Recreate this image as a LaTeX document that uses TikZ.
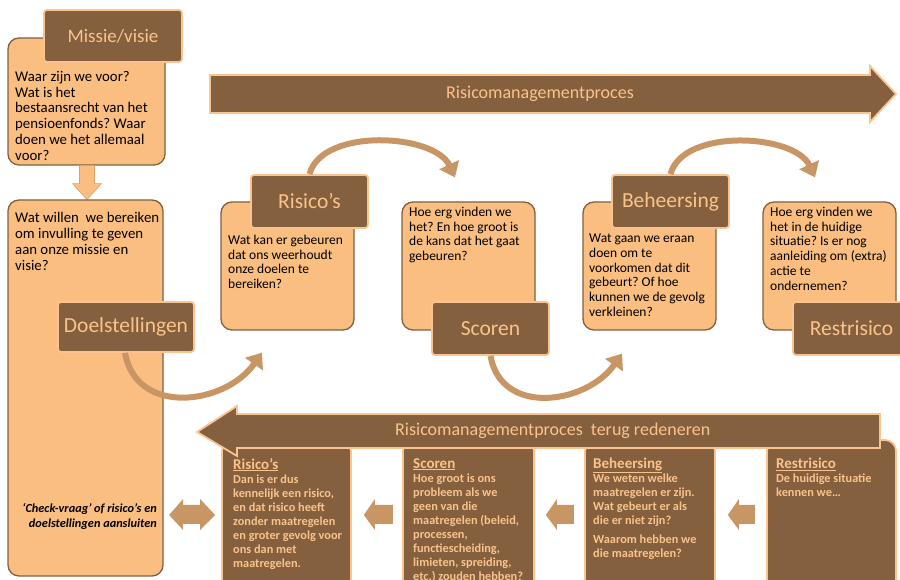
\documentclass[tikz,border=0pt]{standalone}
\usepackage{fontspec}
\setmainfont{Carlito}
\frenchspacing
\usetikzlibrary{positioning,arrows.meta}
\definecolor{lightbox}{RGB}{250,190,128}
\definecolor{boxline}{RGB}{128,96,64}
\definecolor{darkbox}{RGB}{132,96,63}
\definecolor{tabline}{RGB}{250,196,146}
\definecolor{tabtext}{RGB}{250,195,140}
\definecolor{arctan}{RGB}{200,150,100}
\newcommand{\btitlefont}{\bfseries\fontsize{15}{14}\selectfont}

\begin{document}
\begin{tikzpicture}[x=1pt, y=1pt,
  lbox/.style = {draw=boxline, line width=1.3pt, fill=lightbox, rounded corners=11pt, inner sep=0pt},
  tab/.style = {draw=tabline, line width=1.8pt, fill=darkbox, rounded corners=3pt, text=tabtext, font=\fontsize{21.5}{24}\selectfont, minimum width=117pt, minimum height=53pt, inner sep=0pt},
  dbox/.style = {draw=tabline, line width=1.8pt, fill=darkbox, rounded corners=11pt, inner sep=0pt},
  txt/.style = {anchor=north west, align=left, inner sep=0pt, font=\fontsize{13.5}{14.7}\selectfont},
  btxt/.style = {anchor=north west, align=left, inner sep=0pt, text=tabtext, font=\bfseries\fontsize{12.3}{14}\selectfont},
  arc/.style = {draw=arctan, line width=6pt, -{Triangle[width=21pt,length=14pt]}},
  bigarrow/.style = {draw=tabline, line width=1.8pt, fill=darkbox},
  block/.style = {fill=arctan}]
\clip (0,0) rectangle (900,580);

% Top process arrow
\draw[bigarrow] (210,505) -- (870,505) -- (870,514) -- (896,486) -- (870,458) -- (870,467) -- (210,467) -- cycle;
\node[text=tabtext, font=\fontsize{18}{20}\selectfont] (procT) at (540,486) {Risicomanagementproces};

% Mission and goals
\node[lbox, minimum width=157pt, minimum height=127pt] (missB) at (86.5,478.5) {};
\node[txt, font=\fontsize{14.8}{15.8}\selectfont] (missQ) at (15,509) {Waar zijn we voor?\\Wat is het\\bestaansrecht van het\\pensioenfonds? Waar\\doen we het allemaal\\voor?};
\node[tab, minimum width=138pt, minimum height=52pt, font=\fontsize{19}{22}\selectfont] (missT) at (113,544) {Missie/visie};

\fill[lightbox, draw=arctan!70!lightbox, line width=0.6pt] ([xshift=-7pt]missB.south) -- ++(0,-18) -- ++(-7,0) -- ++(14.5,-16) -- ++(14.5,16) -- ++(-7,0) -- ++(0,18) -- cycle;

\node[lbox, minimum width=155pt, minimum height=376pt] (doelB) at (85.5,192) {};
\node[txt, font=\fontsize{14.8}{16.1}\selectfont] (doelQ) at (15,368) {Wat willen\ \ we bereiken\\om invulling te geven\\aan onze missie en\\visie?};
\node[tab, minimum width=136pt, minimum height=50pt] (doelT) at (126,253) {Doelstellingen};
\node[anchor=north east, align=right, inner sep=0pt, font=\bfseries\itshape\fontsize{12.3}{15}\selectfont] (check) at (157,77) {‘Check-vraag’ of risico’s en\\doelstellingen aansluiten};

% Process steps
\node[lbox, minimum width=133pt, minimum height=128pt] (risB) at (287.5,314) {};
\node[txt] (risQ) at (228,345) {Wat kan er gebeuren\\dat ons weerhoudt\\onze doelen te\\bereiken?};
\node[tab] (risT) at (309.5,378.5) {Risico’s};

\node[lbox, minimum width=133pt, minimum height=128pt] (scorB) at (468.5,314) {};
\node[txt] (scorQ) at (409,373) {Hoe erg vinden we\\het? En hoe groot is\\de kans dat het gaat\\gebeuren?};
\node[tab] (scorT) at (490.5,251.5) {Scoren};

\node[lbox, minimum width=133pt, minimum height=128pt] (behB) at (649.5,314) {};
\node[txt] (behQ) at (589,346) {Wat gaan we eraan\\doen om te\\voorkomen dat dit\\gebeurt? Of hoe\\kunnen we de gevolg\\verkleinen?};
\node[tab] (behT) at (670.5,378.5) {Beheersing};

\node[lbox, minimum width=133pt, minimum height=128pt] (restB) at (829.5,314) {};
\node[txt] (restQ) at (770,373) {Hoe erg vinden we\\het in de huidige\\situatie? Is er nog\\aanleiding om (extra)\\actie te\\ondernemen?};
\node[tab] (restT) at (851.5,251.5) {Restrisico};

% Curved arrows
\draw[arc] ([xshift=-1pt]doelT.south) to[out=-80,in=-125,looseness=1.2] ([xshift=-25.5pt,yshift=-22pt]risB.south);
\draw[arc] (risT.north) to[out=75,in=115,looseness=0.85] ([xshift=-13.5pt,yshift=24pt]scorB.north);
\draw[arc] (scorT.south) to[out=-80,in=-125,looseness=1.2] ([xshift=-27.5pt,yshift=-23pt]behB.south);
\draw[arc] (behT.north) to[out=75,in=115,looseness=0.85] ([xshift=-14.5pt,yshift=24pt]restB.north);

% Reasoning back
\node[dbox, minimum width=129pt, minimum height=170pt] (risD) at (286.5,55) {};
\node[btxt] (risDQ) at (233,122) {{\btitlefont\underline{Risico’s}}\\Dan is er dus\\kennelijk een risico,\\en dat risico heeft\\zonder maatregelen\\en groter gevolg voor\\ons dan met\\maatregelen.};

\node[dbox, minimum width=131pt, minimum height=170pt] (scorD) at (468.5,55) {};
\node[btxt] (scorDQ) at (413,122) {{\btitlefont\underline{Scoren}}\\Hoe groot is ons\\probleem als we\\geen van die\\maatregelen (beleid,\\processen,\\functiescheiding,\\limieten, spreiding,\\etc.) zouden hebben?};

\node[dbox, minimum width=130pt, minimum height=170pt] (behD) at (650,55) {};
\node[btxt] (behDQ) at (593,122) {{\btitlefont\underline{Beheersing}}\\We weten welke\\maatregelen er zijn.\\Wat gebeurt er als\\die er niet zijn?\\[5pt]Waarom hebben we\\die maatregelen?};

\node[dbox, minimum width=129pt, minimum height=170pt] (restD) at (831.5,55) {};
\node[btxt] (restDQ) at (776,122) {{\btitlefont\underline{Restrisico}}\\De huidige situatie\\kennen we…};

\draw[bigarrow] (880,166) -- (237,166) -- (237,174) -- (197,148) -- (237,124) -- (237,132) -- (880,132) -- cycle;
\node[anchor=west, text=tabtext, font=\fontsize{18}{20}\selectfont, inner sep=0pt] (backT) at (395,149) {Risicomanagementproces\ \ terug redeneren};

% Block arrows between boxes
\fill[block] ([xshift=12pt,yshift=10pt]risD.east) -- ++(11,16) -- ++(0,-6) -- ++(18,0) -- ++(0,-19) -- ++(-18,0) -- ++(0,-6) -- cycle;
\fill[block] ([xshift=11pt,yshift=10pt]scorD.east) -- ++(11,16) -- ++(0,-6) -- ++(17,0) -- ++(0,-19) -- ++(-17,0) -- ++(0,-6) -- cycle;
\fill[block] ([xshift=12pt,yshift=10pt]behD.east) -- ++(11,16) -- ++(0,-6) -- ++(16,0) -- ++(0,-19) -- ++(-16,0) -- ++(0,-6) -- cycle;
\fill[block] ([xshift=-6pt,yshift=10pt]risD.west) -- ++(-15,16) -- ++(0,-6) -- ++(-17,0) -- ++(0,6) -- ++(-14,-16) -- ++(14,-15) -- ++(0,6) -- ++(17,0) -- ++(0,-6) -- cycle;
\end{tikzpicture}
\end{document}
